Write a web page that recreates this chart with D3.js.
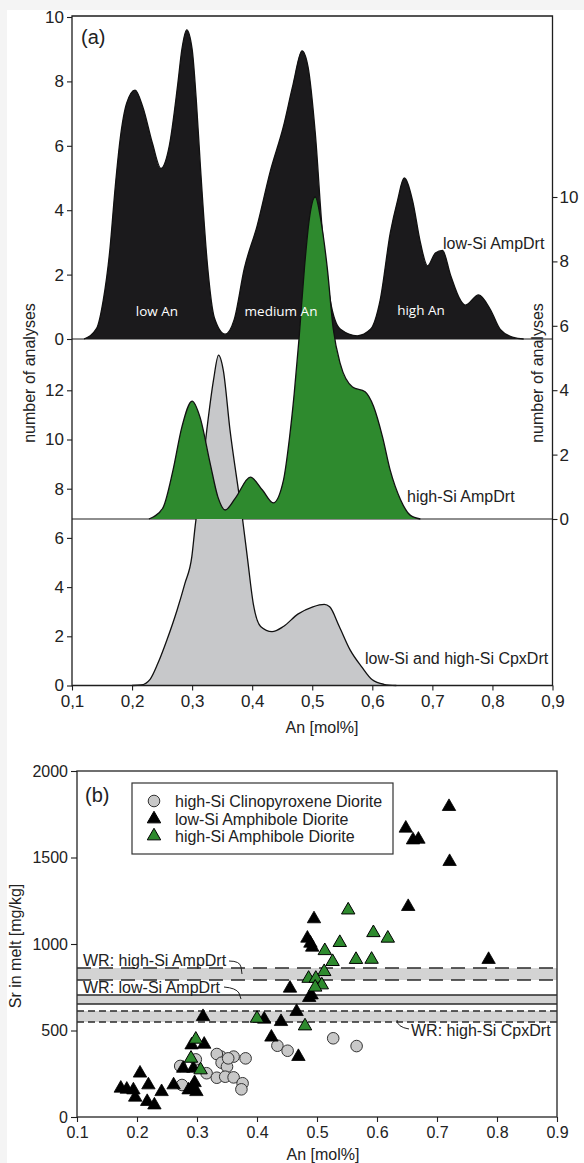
<!DOCTYPE html>
<html>
<head>
<meta charset="utf-8">
<script src="https://cdn.jsdelivr.net/npm/d3@7"></script>
<style>
  html, body { margin: 0; padding: 0; background: #f4f4f4; }
  svg { display: block; font-family: "Liberation Sans", Arial, sans-serif; }
</style>
</head>
<body>
<svg id="chart" width="584" height="1163"></svg>
<script>
// ---------- (a) plagioclase An distributions (kernel density outlines) ----------
// low-Si amphibole diorite (top strip, left axis 0-10)
const lowSiAmpAn = [0.12, 0.141, 0.152, 0.163, 0.172, 0.18, 0.191, 0.205, 0.218, 0.234, 0.248, 0.262, 0.276, 0.283, 0.291, 0.3, 0.307, 0.314, 0.326, 0.337, 0.355, 0.37, 0.387, 0.408, 0.43, 0.452, 0.468, 0.483, 0.493, 0.505, 0.517, 0.53, 0.547, 0.575, 0.597, 0.613, 0.63, 0.642, 0.653, 0.667, 0.68, 0.692, 0.705, 0.717, 0.73, 0.747, 0.755, 0.777, 0.797, 0.813, 0.835, 0.852];
const lowSiAmpN  = [0, 0.33, 1.2, 2.76, 4.73, 6.18, 7.32, 7.73, 7.2, 6.07, 5.3, 6.0, 7.9, 9.0, 9.6, 9.0, 7.4, 5.3, 2.2, 0.66, 0.15, 0.6, 2.2, 3.5, 5.2, 6.6, 7.9, 8.95, 8.45, 6.4, 3.3, 1.2, 0.3, 0.1, 0.3, 1.2, 3.3, 4.3, 5.0, 4.3, 3.0, 2.27, 2.67, 2.75, 2.0, 1.2, 1.05, 1.37, 0.9, 0.3, 0.05, 0];

// high-Si amphibole diorite (middle strip, right axis 0-10)
const highSiAmpAn = [0.228, 0.236, 0.252, 0.268, 0.283, 0.3, 0.313, 0.33, 0.343, 0.355, 0.372, 0.397, 0.417, 0.435, 0.452, 0.462, 0.47, 0.478, 0.487, 0.495, 0.505, 0.515, 0.525, 0.535, 0.547, 0.567, 0.588, 0.602, 0.617, 0.63, 0.647, 0.663, 0.68];
const highSiAmpN  = [0, 0.07, 0.37, 1.5, 2.86, 3.66, 3.17, 1.73, 0.68, 0.28, 0.65, 1.3, 0.9, 0.5, 1.2, 2.5, 3.9, 5.6, 7.8, 9.3, 10.0, 9.2, 7.8, 5.9, 4.8, 4.1, 3.95, 3.5, 2.55, 1.5, 0.6, 0.12, 0];

// low-Si and high-Si clinopyroxene diorite (bottom strip, left axis 0-13)
const cpxAnDens = [0.2, 0.215, 0.23, 0.243, 0.258, 0.275, 0.288, 0.2995, 0.305, 0.313, 0.3245, 0.3355, 0.344, 0.352, 0.363, 0.377, 0.384, 0.392, 0.402, 0.414, 0.433, 0.452, 0.476, 0.501, 0.52, 0.529, 0.545, 0.563, 0.582, 0.6, 0.619, 0.64];
const cpxNDens  = [0, 0.02, 0.25, 0.9, 1.85, 3.07, 4.15, 5.24, 6.46, 7.95, 10.4, 12.4, 13.43, 12.8, 10.4, 7.95, 6.75, 5.2, 3.3, 2.4, 2.19, 2.4, 2.9, 3.2, 3.3, 3.2, 2.4, 1.45, 0.77, 0.23, 0.05, 0];

const anTicks = [0.1, 0.2, 0.3, 0.4, 0.5, 0.6, 0.7, 0.8, 0.9];
const anTickLabelsA = ["0,1", "0,2", "0,3", "0,4", "0,5", "0,6", "0,7", "0,8", "0,9"];
const anTickLabelsB = ["0.1", "0.2", "0.3", "0.4", "0.5", "0.6", "0.7", "0.8", "0.9"];
const countTicksTop = [0, 2, 4, 6, 8, 10];
const countTicksLow = [0, 2, 4, 6, 8, 10, 12];
const srTicks = [0, 500, 1000, 1500, 2000];

// ---------- (b) Sr in melt vs An ----------
const cpxAn = [0.527, 0.566, 0.434, 0.451, 0.34, 0.361, 0.381, 0.298, 0.333, 0.341, 0.272, 0.35, 0.352, 0.316, 0.333, 0.347, 0.361, 0.376, 0.374, 0.275];
const cpxSr = [455, 410, 412, 383, 349, 349, 339, 333, 364, 314, 295, 291, 339, 253, 227, 233, 229, 195, 160, 185];

const lowAmpAn = [0.72, 0.648, 0.66, 0.669, 0.721, 0.652, 0.786, 0.495, 0.484, 0.489, 0.492, 0.455, 0.491, 0.487, 0.466, 0.412, 0.44, 0.31, 0.424, 0.469, 0.312, 0.291, 0.277, 0.294, 0.205, 0.219, 0.261, 0.241, 0.173, 0.183, 0.194, 0.197, 0.217, 0.229, 0.296, 0.291, 0.299, 0.286];
const lowAmpSr = [1794, 1669, 1601, 1605, 1476, 1216, 910, 1145, 1033, 1004, 981, 744, 705, 690, 609, 565, 551, 580, 461, 349, 420, 416, 281, 281, 253, 185, 185, 146, 166, 160, 156, 114, 89, 69, 198, 166, 146, 156];

const highAmpAn = [0.552, 0.538, 0.513, 0.526, 0.565, 0.591, 0.594, 0.618, 0.512, 0.486, 0.498, 0.508, 0.497, 0.4, 0.48, 0.298, 0.29, 0.306];
const highAmpSr = [1196, 1008, 961, 898, 910, 911, 1065, 1033, 840, 801, 801, 763, 750, 570, 526, 449, 339, 272];

// whole-rock Sr ranges
const wrNames = ["WR: high-Si AmpDrt", "WR: low-Si AmpDrt", "WR: high-Si CpxDrt"];
const wrLow  = [792, 653, 549];
const wrHigh = [861, 705, 613];

const legendLabels = ["high-Si Clinopyroxene Diorite", "low-Si Amphibole Diorite", "high-Si Amphibole Diorite"];

// ---------- drawing ----------
const ink = "#1e1e1e";
const svg = d3.select("#chart");
svg.append("rect").attr("x", 7).attr("y", 10).attr("width", 577).attr("height", 1153).attr("fill", "#fff");

const zip = (a, b) => a.map((v, i) => ({ x: v, y: b[i] }));

// scales, panel (a)
const xA = d3.scaleLinear().domain([0.1, 0.9]).range([72, 552.5]);
const yTop = d3.scaleLinear().domain([0, 10]).range([339, 17]);
const yMid = d3.scaleLinear().domain([0, 10]).range([519, 197]);
const yLow = d3.scaleLinear().domain([0, 12]).range([685.5, 390.3]);

const gA = svg.append("g");

// strip separators
[yTop(0), yMid(0)].forEach(yy => {
  gA.append("line").attr("x1", xA(0.1)).attr("x2", xA(0.9)).attr("y1", yy).attr("y2", yy)
    .attr("stroke", ink).attr("stroke-width", 1.2);
});

function density(data, yScale, fill) {
  const area = d3.area().x(d => xA(d.x)).y0(yScale(0)).y1(d => yScale(d.y)).curve(d3.curveMonotoneX);
  const line = d3.line().x(d => xA(d.x)).y(d => yScale(d.y)).curve(d3.curveMonotoneX);
  gA.append("path").datum(data).attr("d", area).attr("fill", fill);
  gA.append("path").datum(data).attr("d", line).attr("fill", "none").attr("stroke", "#111").attr("stroke-width", 1.3);
}
density(zip(lowSiAmpAn, lowSiAmpN), yTop, "#1b1a1c");
density(zip(cpxAnDens, cpxNDens), yLow, "#c7c8ca");
density(zip(highSiAmpAn, highSiAmpN), yMid, "#2e8a2e");

// frame
gA.append("path")
  .attr("d", `M${xA(0.1)},${yLow(0)}V16H${xA(0.9)}V${yLow(0)}Z`)
  .attr("fill", "none").attr("stroke", ink).attr("stroke-width", 1.3);

function styleAxis(g, size) {
  g.attr("font-family", null).attr("font-size", null);
  g.select(".domain").remove();
  g.selectAll("line").attr("stroke", ink).attr("stroke-width", 1.1);
  g.selectAll("text").attr("font-size", size).attr("fill", "#222");
}

gA.append("g").attr("transform", `translate(${xA(0.1)},0)`)
  .call(d3.axisLeft(yTop).tickValues(countTicksTop).tickSize(5).tickPadding(3))
  .call(g => styleAxis(g, 17));
gA.append("g").attr("transform", `translate(${xA(0.1)},0)`)
  .call(d3.axisLeft(yLow).tickValues(countTicksLow).tickSize(5).tickPadding(3))
  .call(g => styleAxis(g, 17));
gA.append("g").attr("transform", `translate(${xA(0.9)},0)`)
  .call(d3.axisRight(yMid).tickValues(countTicksTop).tickSize(5).tickPadding(2))
  .call(g => styleAxis(g, 17));
gA.append("g").attr("transform", `translate(0,${yLow(0)})`)
  .call(d3.axisBottom(xA).tickValues(anTicks).tickFormat((d, i) => anTickLabelsA[i]).tickSize(5).tickPadding(4))
  .call(g => styleAxis(g, 17));

gA.append("text").attr("x", 322).attr("y", 733).attr("text-anchor", "middle")
  .attr("font-size", 16).attr("fill", "#222").text("An [mol%]");
gA.append("text").attr("transform", "translate(35,373) rotate(-90)").attr("text-anchor", "middle")
  .attr("font-size", 16).attr("fill", "#222").text("number of analyses");
gA.append("text").attr("transform", "translate(543,373) rotate(-90)").attr("text-anchor", "middle")
  .attr("font-size", 16).attr("fill", "#222").text("number of analyses");
gA.append("text").attr("x", 81).attr("y", 44).attr("font-size", 20).attr("fill", "#222").text("(a)");

const groupLabels = [["low An", 157, 311], ["medium An", 281, 311], ["high An", 421, 310]];
groupLabels.forEach(([t, x, y]) => {
  gA.append("text").attr("x", x).attr("y", y).attr("dy", "0.35em").attr("text-anchor", "middle")
    .attr("font-family", "'Open Sans', sans-serif").attr("font-size", 13.5).attr("fill", "#fff").text(t);
});
const stripLabels = [["low-Si AmpDrt", 443, 243], ["high-Si AmpDrt", 407, 496], ["low-Si and high-Si CpxDrt", 365, 658]];
stripLabels.forEach(([t, x, y]) => {
  gA.append("text").attr("x", x).attr("y", y).attr("dy", "0.35em")
    .attr("font-size", 16).attr("fill", "#222").text(t);
});

// ---------- panel (b) ----------
const xB = d3.scaleLinear().domain([0.1, 0.9]).range([77, 557]);
const yB = d3.scaleLinear().domain([0, 2000]).range([1117, 771]);
const gB = svg.append("g");

// whole-rock bands
const wrDash = ["14,8", null, "7,4"];
wrLow.forEach((lo, i) => {
  gB.append("rect").attr("x", xB(0.1)).attr("width", xB(0.9) - xB(0.1))
    .attr("y", yB(wrHigh[i])).attr("height", yB(lo) - yB(wrHigh[i])).attr("fill", "#d3d3d3");
  [lo, wrHigh[i]].forEach(v => {
    gB.append("line").attr("x1", xB(0.1)).attr("x2", xB(0.9)).attr("y1", yB(v)).attr("y2", yB(v))
      .attr("stroke", "#2a2a2a").attr("stroke-width", 1.4).attr("stroke-dasharray", wrDash[i]);
  });
});

// band labels with leaders
gB.append("text").attr("x", 83).attr("y", 966).attr("font-size", 16).attr("fill", "#222").text(wrNames[0]);
gB.append("text").attr("x", 83).attr("y", 993).attr("font-size", 16).attr("fill", "#222").text(wrNames[1]);
gB.append("text").attr("x", 411).attr("y", 1036).attr("font-size", 16).attr("fill", "#222").text(wrNames[2]);
const leaders = [
  `M229,961 Q240,961 241,967 L242,974`,
  `M224,987 Q236,988 239,993 L241,999`,
  `M397,1020 Q397,1027 409,1029`
];
leaders.forEach(d => gB.append("path").attr("d", d).attr("fill", "none").attr("stroke", "#222").attr("stroke-width", 1));

// scatter
const tri = d3.symbol().type(d3.symbolTriangle).size(78);
gB.selectAll(".cpx").data(zip(cpxAn, cpxSr)).join("circle")
  .attr("cx", d => xB(d.x)).attr("cy", d => yB(d.y)).attr("r", 5.8)
  .attr("fill", "#c8c8c8").attr("stroke", "#333").attr("stroke-width", 1);
gB.selectAll(".lowamp").data(zip(lowAmpAn, lowAmpSr)).join("path")
  .attr("transform", d => `translate(${xB(d.x)},${yB(d.y)})`).attr("d", tri)
  .attr("fill", "#000").attr("stroke", "#000").attr("stroke-width", 0.8);
gB.selectAll(".highamp").data(zip(highAmpAn, highAmpSr)).join("path")
  .attr("transform", d => `translate(${xB(d.x)},${yB(d.y)})`).attr("d", tri)
  .attr("fill", "#2e8a2e").attr("stroke", "#000").attr("stroke-width", 1);

// frame and axes
gB.append("rect").attr("x", xB(0.1)).attr("y", yB(2000)).attr("width", xB(0.9) - xB(0.1))
  .attr("height", yB(0) - yB(2000)).attr("fill", "none").attr("stroke", "#333").attr("stroke-width", 1.4);
gB.append("g").attr("transform", `translate(${xB(0.1)},0)`)
  .call(d3.axisLeft(yB).tickValues(srTicks).tickFormat(d3.format("d")).tickSize(6).tickPadding(3))
  .call(g => styleAxis(g, 16));
gB.append("g").attr("transform", `translate(0,${yB(0)})`)
  .call(d3.axisBottom(xB).tickValues(anTicks).tickFormat((d, i) => anTickLabelsB[i]).tickSize(5).tickPadding(5))
  .call(g => styleAxis(g, 16));
gB.append("text").attr("x", 323).attr("y", 1160).attr("text-anchor", "middle")
  .attr("font-size", 16).attr("fill", "#222").text("An [mol%]");
gB.append("text").attr("transform", "translate(21,946) rotate(-90)").attr("text-anchor", "middle")
  .attr("font-size", 16).attr("fill", "#222").text("Sr in melt [mg/kg]");
gB.append("text").attr("x", 85).attr("y", 802).attr("font-size", 20).attr("fill", "#222").text("(b)");

// legend
const lg = gB.append("g");
lg.append("rect").attr("x", 132).attr("y", 783).attr("width", 261).attr("height", 71)
  .attr("fill", "#fff").attr("stroke", "#333").attr("stroke-width", 1.2);
const legY = [801, 819, 836];
lg.append("circle").attr("cx", 154).attr("cy", legY[0]).attr("r", 5.8)
  .attr("fill", "#c8c8c8").attr("stroke", "#333").attr("stroke-width", 1);
lg.append("path").attr("transform", `translate(154,${legY[1]})`).attr("d", tri).attr("fill", "#000").attr("stroke", "#000");
lg.append("path").attr("transform", `translate(154,${legY[2]})`).attr("d", tri).attr("fill", "#2e8a2e").attr("stroke", "#000");
legendLabels.forEach((t, i) => {
  lg.append("text").attr("x", 175).attr("y", legY[i]).attr("dy", "0.36em")
    .attr("font-size", 16).attr("fill", "#222").text(t);
});
</script>
</body>
</html>
